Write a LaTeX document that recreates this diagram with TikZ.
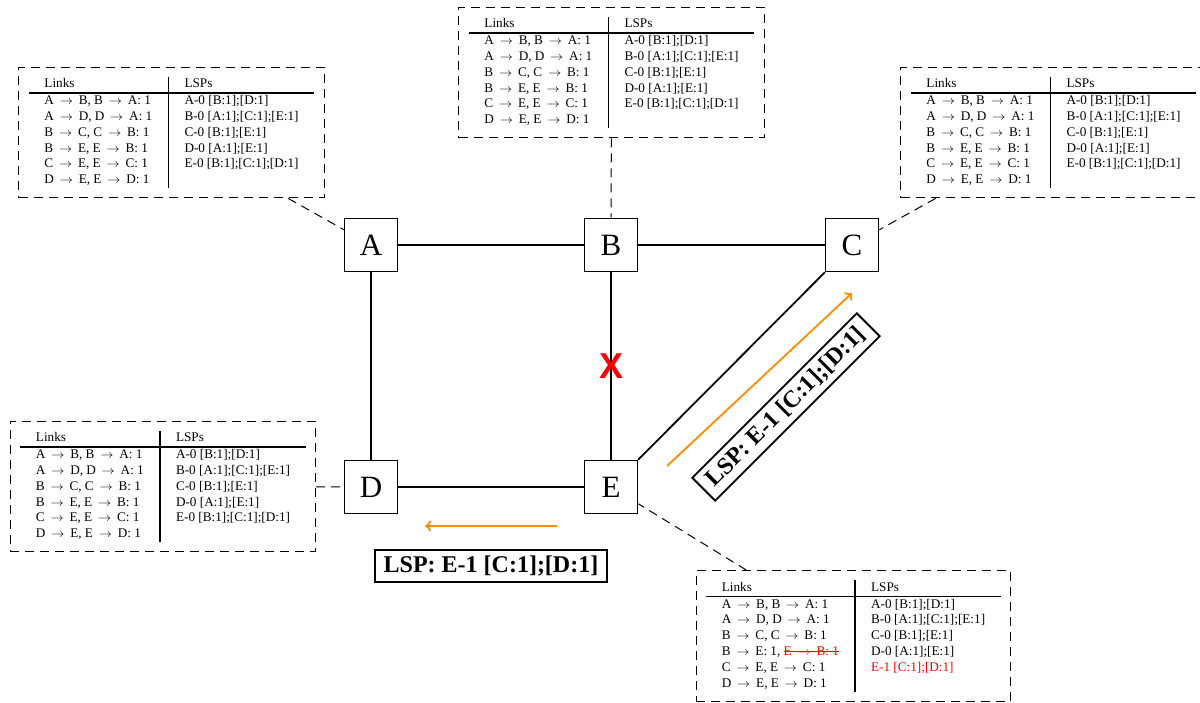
\documentclass[tikz,border=0pt]{standalone}
\usepackage{fontspec}
\setmainfont{Liberation Serif}
\newfontfamily\xmarkfont{Liberation Sans}
\usepackage{array}
\usepackage{graphicx}
\usetikzlibrary{arrows.meta}
\definecolor{lsporange}{RGB}{255,140,0}
\newcommand{\ra}{\hspace{2.5pt}\scalebox{1.1}[1]{$\rightarrow$}\hspace{2.5pt}}
\newcommand{\strikeout}[1]{\setbox0=\hbox{#1}\rlap{\rule[0.3em]{\wd0}{0.9pt}}\box0}
\newcommand{\tblsetup}{\fontsize{13.2}{15.8}\selectfont\setlength{\tabcolsep}{15.5pt}\setlength{\arrayrulewidth}{1.2pt}}
\newcommand{\stdtable}{{\tblsetup
\begin{tabular}{l|l}
Links & LSPs\\ \hline
A \ra{} B, B \ra{} A: 1 & A-0 [B:1];[D:1]\\
A \ra{} D, D \ra{} A: 1 & B-0 [A:1];[C:1];[E:1]\\
B \ra{} C, C \ra{} B: 1 & C-0 [B:1];[E:1]\\
B \ra{} E, E \ra{} B: 1 & D-0 [A:1];[E:1]\\
C \ra{} E, E \ra{} C: 1 & E-0 [B:1];[C:1];[D:1]\\
D \ra{} E, E \ra{} D: 1 & \\
\end{tabular}}}
\newcommand{\etable}{{\tblsetup
\begin{tabular}{l|l}
Links & LSPs\\ \hline
A \ra{} B, B \ra{} A: 1 & A-0 [B:1];[D:1]\\
A \ra{} D, D \ra{} A: 1 & B-0 [A:1];[C:1];[E:1]\\
B \ra{} C, C \ra{} B: 1 & C-0 [B:1];[E:1]\\
B \ra{} E: 1, {\color{red}\strikeout{E \ra{} B: 1}} & D-0 [A:1];[E:1]\\
C \ra{} E, E \ra{} C: 1 & {\color{red}E-1 [C:1];[D:1]}\\
D \ra{} E, E \ra{} D: 1 & \\
\end{tabular}}}
\tikzset{
  router/.style={draw, line width=1.6pt, minimum size=53pt, inner sep=0pt, font=\fontsize{31}{36}\selectfont},
  edge/.style={line width=1.8pt},
  tbl/.style={draw, dashed, dash pattern=on 9pt off 6pt, line width=1pt, inner xsep=10pt, inner ysep=9.5pt},
  tblconn/.style={dashed, dash pattern=on 9pt off 6pt, line width=1pt},
  lsparrow/.style={draw=lsporange, line width=1.8pt, -{To[length=6pt,width=11pt]}},
  lsplabel/.style={draw, line width=1.8pt, inner xsep=9pt, inner ysep=6pt, font=\fontsize{24}{28}\selectfont\bfseries},
  xmark/.style={text=red, font=\xmarkfont\fontsize{36}{40}\selectfont\bfseries, inner sep=0pt}
}
\begin{document}
\begin{tikzpicture}[x=1pt, y=-1pt]
\useasboundingbox (0,0) rectangle (1200,703);
\clip (0,0) rectangle (1200,703);
% routers
\node[router] (A) at (371,245) {A};
\node[router] (B) at (611,245) {B};
\node[router] (C) at (852,245) {C};
\node[router] (D) at (371,487) {D};
\node[router] (E) at (611,487) {E};
% links
\draw[edge] (A) -- (B);
\draw[edge] (B) -- (C);
\draw[edge] (A) -- (D);
\draw[edge] (D) -- (E);
\draw[edge] (E) -- (C);
\draw[edge] (B) -- node[xmark] (X) {X} (E);
% tables
\node[tbl] (At) at (171.5,132.5) {\stdtable};
\node[tbl] (Bt) at (611.5,72.5) {\stdtable};
\node[tbl] (Ct) at (1053.5,132.5) {\stdtable};
\node[tbl] (Dt) at (163,486.5) {\stdtable};
\node[tbl] (Et) at (853.5,636) {\etable};
\draw[tblconn] (At) -- (A);
\draw[tblconn] (Bt) -- (B);
\draw[tblconn] (Ct) -- (C);
\draw[tblconn] (Dt) -- (D);
\draw[tblconn] (Et) -- (E);
% LSP floods
\coordinate (d1) at (667,466);
\coordinate (d2) at (852,293);
\draw[lsparrow] (d1) -- (d2);
\node[lsplabel, rotate=45] (L1) at (786,407) {LSP: E-1 [C:1];[D:1]};
\coordinate (h1) at (557,526);
\coordinate (h2) at (425,526);
\draw[lsparrow] (h1) -- (h2);
\node[lsplabel] (L2) at (491,566) {LSP: E-1 [C:1];[D:1]};
\end{tikzpicture}
\end{document}
